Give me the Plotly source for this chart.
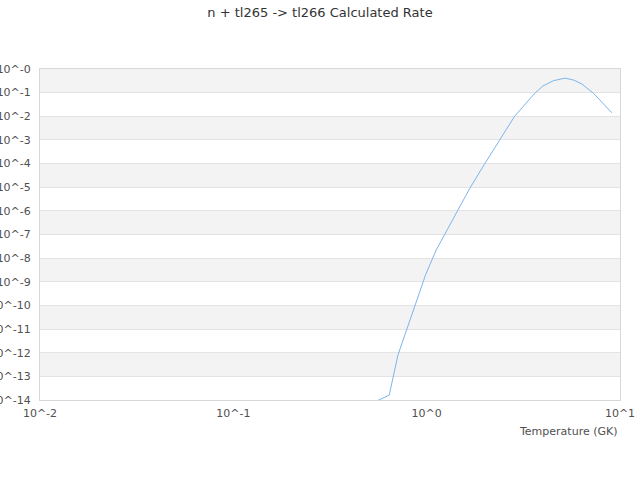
import plotly.graph_objects as go

# temperature (GK) and rate
temperature = [0.5, 0.64, 0.71, 0.80, 0.885, 0.99, 1.12, 1.29, 1.54, 1.67, 2.0,
               2.38, 2.85, 3.62, 3.99, 4.52, 5.21, 5.76, 6.36, 7.3, 9.08]
rate = [6.3e-15, 1.6e-14, 7.9e-13, 1.3e-11, 1.4e-10, 2.1e-9, 2.2e-8, 1.8e-7, 2.9e-6,
        8.9e-6, 1.0e-4, 1.0e-3, 1.0e-2, 9.3e-2, 0.19, 0.32, 0.41, 0.34, 0.23, 0.093, 0.014]

x_tickvals = [0.01, 0.1, 1, 10]
x_ticktext = ["10^-2", "10^-1", "10^0", "10^1"]
y_exponents = list(range(0, -15, -1))
y_tickvals = [10.0 ** e for e in y_exponents]
y_ticktext = ["10^-%d" % -e for e in y_exponents]

fig = go.Figure()
fig.add_trace(go.Scatter(x=temperature, y=rate, mode="lines",
                         line=dict(color="#7cb5ec", width=1), hoverinfo="x+y"))

# alternating plot bands, one per decade
n_bands = len(y_exponents) - 1
shapes = []
for i in range(0, n_bands, 2):
    shapes.append(dict(type="rect", xref="paper", yref="paper", x0=0, x1=1,
                       y0=1 - (i + 1) / n_bands, y1=1 - i / n_bands,
                       fillcolor="#f3f3f3", line=dict(width=0), layer="below"))

fig.update_layout(
    width=640, height=480,
    margin=dict(l=40, r=20, t=69, b=80),
    paper_bgcolor="white", plot_bgcolor="white",
    font=dict(family="DejaVu Sans", size=11, color="#505050"),
    title=dict(text="n + tl265 -> tl266 Calculated Rate", x=0.5, xref="container",
               y=1 - 12 / 480, yref="container", yanchor="middle", xanchor="center",
               font=dict(size=13, color="#333333")),
    showlegend=False,
    shapes=shapes,
    annotations=[dict(text="Temperature (GK)", xref="paper", yref="paper", x=1, y=0,
                      xanchor="right", yanchor="middle", yshift=-31, showarrow=False,
                      font=dict(size=11, color="#505050"))],
)
fig.update_xaxes(type="log", range=[-2, 1], tickvals=x_tickvals, ticktext=x_ticktext,
                 showgrid=False, zeroline=False, showline=True, mirror=True,
                 linecolor="#d8d8d8", linewidth=1, ticks="outside", ticklen=3,
                 tickcolor="rgba(0,0,0,0)", automargin=False)
fig.update_yaxes(type="log", range=[-14, 0], tickvals=y_tickvals, ticktext=y_ticktext,
                 showgrid=True, gridcolor="#e3e3e3", gridwidth=1, zeroline=False,
                 showline=True, mirror=True, linecolor="#d8d8d8", linewidth=1,
                 ticks="outside", ticklen=6, tickcolor="rgba(0,0,0,0)", automargin=False)

fig.write_html("out.html", config={"displayModeBar": False},
               post_script="document.body.style.margin='0';document.body.style.overflow='hidden';")
